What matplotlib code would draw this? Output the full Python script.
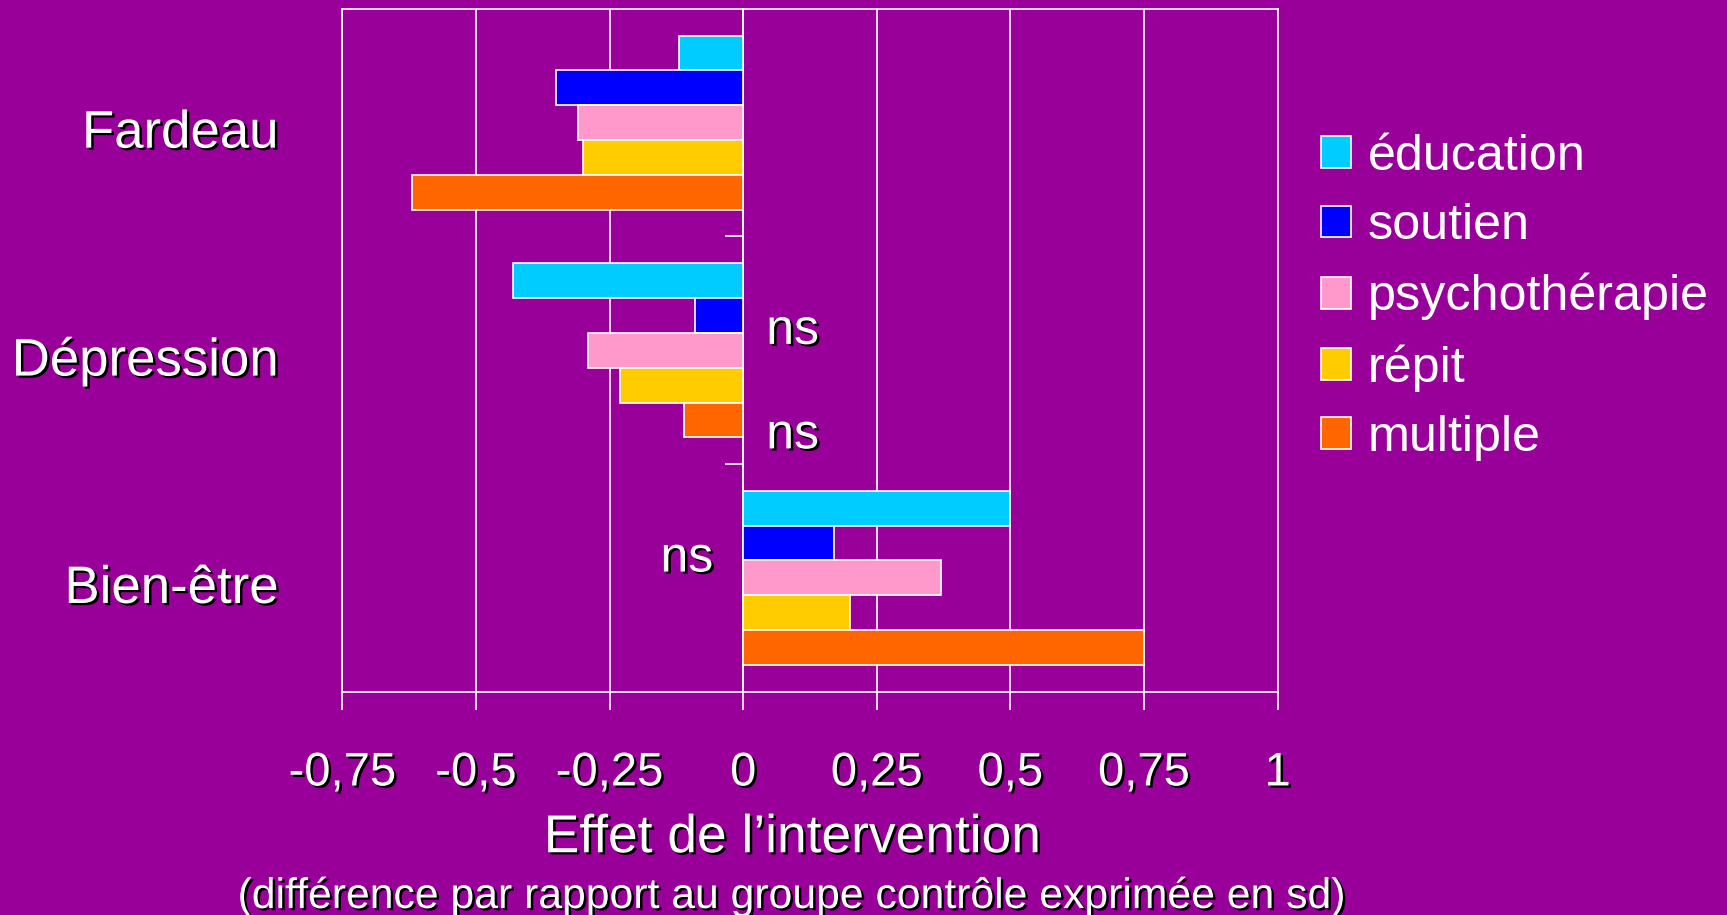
import matplotlib.pyplot as plt
import matplotlib.patheffects as pe
import matplotlib.transforms as mtransforms
import numpy as np

plt.rcParams['font.family'] = ['Liberation Sans', 'DejaVu Sans']

categories = ["Fardeau", "Dépression", "Bien-être"]
series = ["éducation", "soutien", "psychothérapie", "répit", "multiple"]
colors = ["#00CCFF", "#0000FF", "#FF99CC", "#FFCC00", "#FF6600"]

# effect sizes (sd), one list per intervention, in category order
education = [-0.12, -0.43, 0.50]
soutien = [-0.35, -0.09, 0.17]
psychotherapie = [-0.31, -0.29, 0.37]
repit = [-0.30, -0.23, 0.20]
multiple = [-0.62, -0.11, 0.75]
values = [education, soutien, psychotherapie, repit, multiple]

# non significant results: (category, intervention)
ns_marks = [("Dépression", "soutien"), ("Dépression", "multiple"), ("Bien-être", "soutien")]

xticks = [-0.75, -0.5, -0.25, 0, 0.25, 0.5, 0.75, 1]
xticklabels = ["-0,75", "-0,5", "-0,25", "0", "0,25", "0,5", "0,75", "1"]

bg = "#990099"
shadow = [pe.SimplePatchShadow(offset=(1.8, -1.6), shadow_rgbFace="black", alpha=1.0), pe.Normal()]

fig = plt.figure(figsize=(17.27, 9.15), dpi=100, facecolor=bg)
ax = fig.add_axes([0.1983, 0.244, 0.5415, 0.7464])
ax.set_facecolor(bg)

bar_h = 0.153
y = np.arange(len(categories))
bars = []
for j, (name, vals) in enumerate(zip(series, values)):
    b = ax.barh(y + (j - 2) * bar_h, vals, height=bar_h, color=colors[j],
                edgecolor="white", linewidth=1.2, label=name, zorder=3)
    bars.append(b)

ax.set_xlim(-0.75, 1)
ax.set_ylim(2.5, -0.5)

ax.set_xticks(xticks)
ax.set_xticklabels(xticklabels)
ax.tick_params(axis="x", colors="white", labelsize=34, length=13, width=1.2, pad=30)
ax.grid(axis="x", color="white", linewidth=1.2, zorder=0)
ax.set_axisbelow(True)

ax.set_yticks(y)
ax.set_yticklabels(categories)
ax.tick_params(axis="y", colors="white", labelsize=38, length=0, pad=46)

for sp in ax.spines.values():
    sp.set_color("white")
    sp.set_linewidth(1.2)

for lbl in ax.get_xticklabels() + ax.get_yticklabels():
    lbl.set_path_effects(shadow)

# category labels sit a little below the group centre
down = mtransforms.ScaledTranslation(0, -4 / 72, fig.dpi_scale_trans)
for lbl in ax.get_yticklabels():
    lbl.set_transform(lbl.get_transform() + down)

# vertical axis at zero with category separators
sec = ax.secondary_yaxis(0.75 / 1.75)
sec.set_yticks([0.5, 1.5])
sec.set_yticklabels(["", ""])
sec.tick_params(axis="y", colors="white", length=13, width=1.2, direction="out")
sec.spines["left"].set_color("white")
sec.spines["left"].set_linewidth(1.2)

for cat, ser in ns_marks:
    i = categories.index(cat)
    j = series.index(ser)
    v = values[j][i]
    yc = i + (j - 2) * bar_h + 0.125
    if v < 0:
        ax.text(0.043, yc, "ns", color="white", fontsize=36, ha="left", va="baseline",
                path_effects=shadow, zorder=4)
    else:
        ax.text(-0.056, yc, "ns", color="white", fontsize=36, ha="right", va="baseline",
                path_effects=shadow, zorder=4)

fig.text(0.459, 0.0839, "Effet de l\u2019intervention", color="white", fontsize=38.4,
         ha="center", va="center", path_effects=shadow)
fig.text(0.459, 0.0202, "(différence par rapport au groupe contrôle exprimée en sd)", color="white",
         fontsize=30.75, ha="center", va="center", path_effects=shadow)

leg = fig.legend(handles=bars, labels=series, loc="center left", bbox_to_anchor=(0.7648, 0.675),
                 frameon=False, fontsize=36.2, labelcolor="white", handlelength=0.6,
                 handleheight=0.6, handletextpad=0.33, labelspacing=0.47,
                 borderpad=0, borderaxespad=0)

fig.savefig("out.png", dpi=100, facecolor=bg)
